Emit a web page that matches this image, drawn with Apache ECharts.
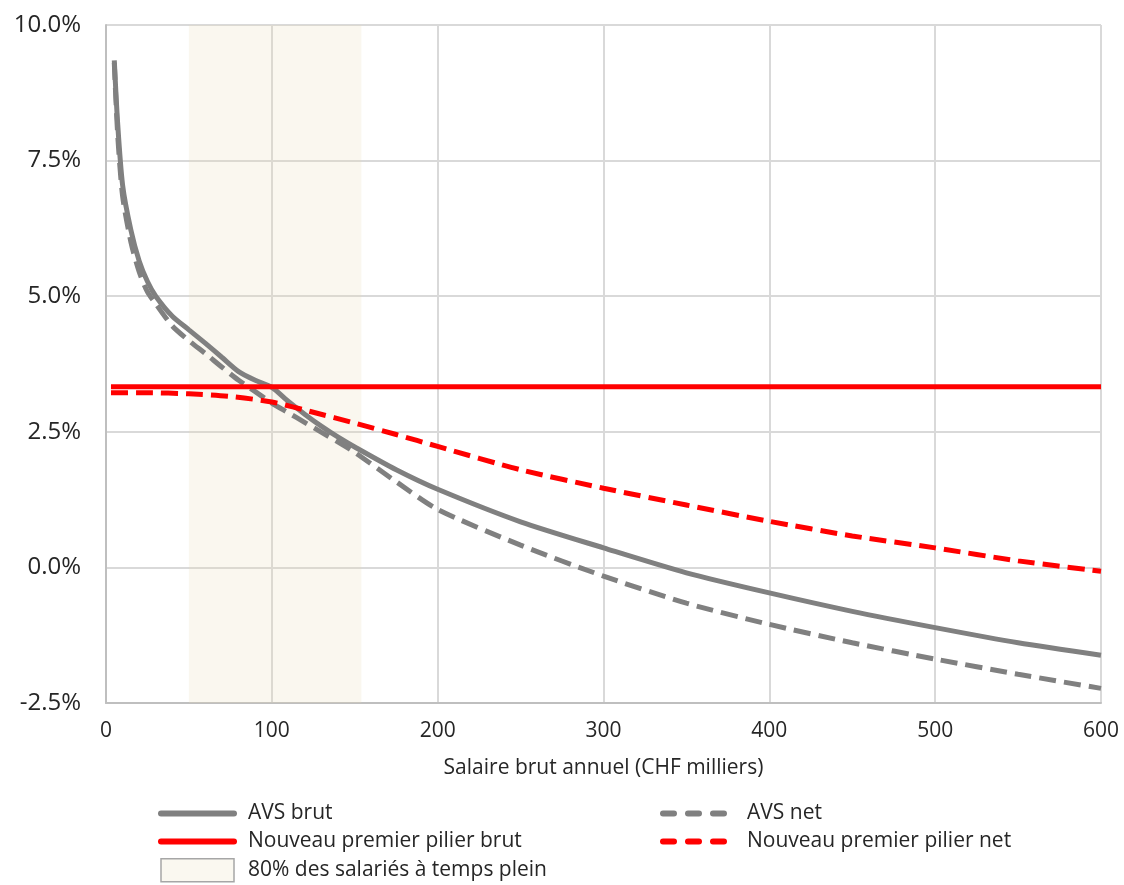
<!DOCTYPE html>
<html>
<head>
<meta charset="utf-8">
<script src="https://cdn.jsdelivr.net/npm/echarts@6/dist/echarts.min.js"></script>
<style>
  html, body { margin: 0; padding: 0; background: #fff; }
  #chart { width: 1124px; height: 885px; }
</style>
</head>
<body>
<div id="chart"></div>
<script>
// Annual gross salary, CHF thousands
const salaryAvs = [5, 7, 10, 15, 20, 25, 30, 40, 50, 60, 70, 80, 90, 100, 110, 120, 130, 140, 150, 175, 200, 250, 300, 350, 400, 450, 500, 550, 600];
// Net return rate (%) under the current AVS, gross and net
const avsBrut = [9.35, 8.2, 7.05, 6.22, 5.65, 5.27, 5.0, 4.63, 4.38, 4.13, 3.87, 3.61, 3.45, 3.32, 3.06, 2.82, 2.6, 2.4, 2.22, 1.8, 1.44, 0.84, 0.36, -0.1, -0.47, -0.81, -1.11, -1.39, -1.62];
const avsNet = [9.3, 8.0, 6.85, 6.0, 5.45, 5.08, 4.86, 4.45, 4.18, 3.94, 3.69, 3.45, 3.24, 3.03, 2.85, 2.67, 2.49, 2.31, 2.12, 1.58, 1.07, 0.41, -0.16, -0.66, -1.05, -1.39, -1.69, -1.97, -2.23];
// New first pillar
const salaryNewBrut = [3, 600];
const newBrut = [3.33, 3.33];
const salaryNewNet = [3, 25, 50, 75, 100, 125, 150, 175, 200, 250, 300, 350, 400, 450, 500, 550, 600];
const newNet = [3.22, 3.22, 3.2, 3.15, 3.05, 2.86, 2.66, 2.45, 2.23, 1.8, 1.46, 1.15, 0.85, 0.58, 0.36, 0.12, -0.07];
// Salary range covering 80% of full-time employees
const bandRange = [50, 154];

const yTicks = { min: -2.5, max: 10, step: 2.5 };
const xTicks = { min: 0, max: 600, step: 100 };

const pairs = (xs, ys) => xs.map((x, i) => [x, ys[i]]);

const FONT = 'Open Sans';
const GREY = '#808080';
const RED = '#ff0000';
const DASH = [17, 8];

const chart = echarts.init(document.getElementById('chart'), null, { renderer: 'canvas' });

const textStyle = { fontFamily: FONT, fontSize: 21, color: '#262626', padding: [0, 0, 0, 9], lineHeight: 23 };
// line entries: hide the marker dot drawn in the middle of the legend line
const lineEntry = name => ({ name, itemStyle: { opacity: 0 } });

chart.setOption({
  animation: false,
  backgroundColor: '#fff',
  grid: { left: 106, right: 23, top: 25, bottom: 182, containLabel: false },
  legend: [
    {
      left: 158, top: 802, padding: 0, orient: 'vertical', itemWidth: 73, itemHeight: 23, itemGap: 5,
      selectedMode: false, textStyle: textStyle, lineStyle: { width: 6, cap: 'round' },
      data: [
        lineEntry('AVS brut'),
        lineEntry('Nouveau premier pilier brut'),
        { name: '80% des salariés à temps plein', icon: 'rect',
          itemStyle: { color: '#faf8f0', borderColor: '#a6a6a6', borderWidth: 1.5, opacity: 1 } }
      ]
    },
    {
      left: 660, top: 802, padding: 0, orient: 'vertical', itemWidth: 70, itemHeight: 23, itemGap: 5,
      selectedMode: false, textStyle: textStyle,
      lineStyle: { width: 6, cap: 'round', type: [11, 14], dashOffset: 0 },
      data: [ lineEntry('AVS net'), lineEntry('Nouveau premier pilier net') ]
    }
  ],
  xAxis: {
    type: 'value', min: xTicks.min, max: xTicks.max, interval: xTicks.step,
    name: 'Salaire brut annuel (CHF milliers)', nameLocation: 'middle', nameGap: 55,
    nameTextStyle: { fontFamily: FONT, fontSize: 21, color: '#262626' },
    axisLine: { show: true, onZero: false, lineStyle: { color: '#bfbfbf', width: 2 } },
    axisTick: { show: false },
    axisLabel: { fontFamily: FONT, fontSize: 21, color: '#262626', margin: 18 },
    splitLine: { show: true, lineStyle: { color: '#d9d9d9', width: 2 } }
  },
  yAxis: {
    type: 'value', min: yTicks.min, max: yTicks.max, interval: yTicks.step,
    axisLine: { show: true, lineStyle: { color: '#bfbfbf', width: 2 } },
    axisTick: { show: false },
    axisLabel: { fontFamily: FONT, fontSize: 24, color: '#262626', margin: 25,
      formatter: v => v.toFixed(1) + '%' },
    splitLine: { show: true, lineStyle: { color: '#d9d9d9', width: 2 } }
  },
  series: [
    {
      name: '80% des salariés à temps plein', type: 'line', data: [],
      itemStyle: { color: '#faf8f0' },
      markArea: {
        silent: true,
        itemStyle: { color: 'rgba(230,220,180,0.22)' },
        data: [[{ xAxis: bandRange[0] }, { xAxis: bandRange[1] }]]
      }
    },
    {
      name: 'AVS brut', type: 'line', data: pairs(salaryAvs, avsBrut),
      showSymbol: false, symbol: 'none', smooth: 0.25,
      itemStyle: { color: GREY }, lineStyle: { color: GREY, width: 5 }
    },
    {
      name: 'AVS net', type: 'line', data: pairs(salaryAvs, avsNet),
      showSymbol: false, symbol: 'none', smooth: 0.25,
      itemStyle: { color: GREY }, lineStyle: { color: GREY, width: 5, type: DASH }
    },
    {
      name: 'Nouveau premier pilier brut', type: 'line', data: pairs(salaryNewBrut, newBrut),
      showSymbol: false, symbol: 'none',
      itemStyle: { color: RED }, lineStyle: { color: RED, width: 5 }
    },
    {
      name: 'Nouveau premier pilier net', type: 'line', data: pairs(salaryNewNet, newNet),
      showSymbol: false, symbol: 'none', smooth: 0.25,
      itemStyle: { color: RED }, lineStyle: { color: RED, width: 5, type: DASH }
    }
  ]
});
</script>
</body>
</html>
